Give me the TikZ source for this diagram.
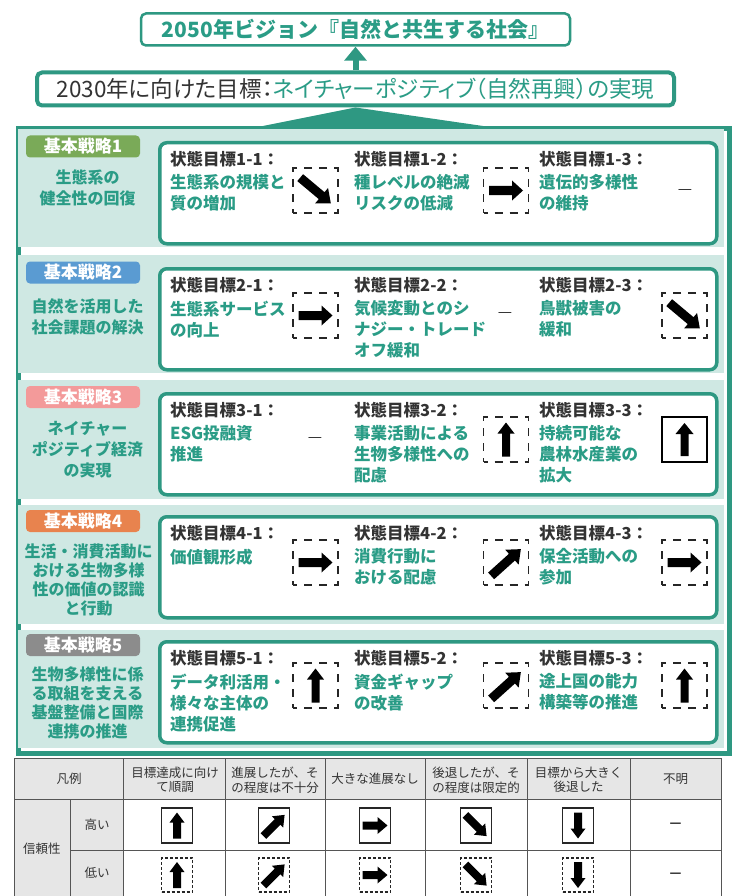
\documentclass[tikz,border=0pt]{standalone}
\usepackage{fontspec}
\newfontfamily\jp{Noto Sans CJK JP}
\newfontfamily\jpp{Noto Sans CJK JP}[RawFeature={+palt}]
\usetikzlibrary{calc,arrows.meta}
\definecolor{tealf}{HTML}{2E9882}
\definecolor{tealt}{HTML}{2A9C86}
\definecolor{mint}{HTML}{CFE8E3}
\definecolor{dark}{HTML}{333333}
\definecolor{bgreen}{HTML}{7AAA58}
\definecolor{bblue}{HTML}{5A9BD2}
\definecolor{bpink}{HTML}{F39A9A}
\definecolor{borange}{HTML}{E8834E}
\definecolor{bgray}{HTML}{8C8C8C}
\definecolor{lgray}{HTML}{E6E6E6}
\definecolor{lline}{HTML}{555555}

% fat arrow: center, angle, length, shaft half width, head half width, head length
\newcommand\icarrow[6]{%
  \begin{scope}[shift={#1},rotate=#2]
    \fill[black] ({-#3/2},-#4) -- ({#3/2-#6},-#4) -- ({#3/2-#6},-#5) -- ({#3/2},0)
      -- ({#3/2-#6},#5) -- ({#3/2-#6},#4) -- ({-#3/2},#4) -- cycle;
  \end{scope}}
\newcommand\arR[1]{\icarrow{#1}{0}{34}{4.5}{10}{11}}
\newcommand\arU[1]{\icarrow{#1}{90}{34}{4}{8.5}{11}}
\newcommand\arDR[1]{\icarrow{#1}{-40}{40}{4.5}{10}{12}}
\newcommand\arUR[1]{\icarrow{#1}{42}{40}{4.5}{10}{12}}
% legend arrows
\newcommand\lU[1]{\icarrow{#1}{90}{26}{4}{7.5}{10}}
\newcommand\lD[1]{\icarrow{#1}{-90}{26}{4}{7.5}{10}}
\newcommand\lR[1]{\icarrow{#1}{0}{25}{4}{8.5}{10}}
\newcommand\lUR[1]{\icarrow{#1}{45}{30}{4}{8}{10}}
\newcommand\lDR[1]{\icarrow{#1}{-45}{30}{4}{8}{10}}

\tikzset{
  dbox/.style={draw=black!85, line width=1.8, dash pattern=on 8pt off 7pt, dash phase=4pt,
    minimum size=45, inner sep=0, outer sep=0},
  sbox/.style={draw=black, line width=1.8, minimum size=45, inner sep=0, outer sep=0},
  goalhd/.style={anchor=west, inner sep=0, text=dark, font=\jp\bfseries\fontsize{16.5}{21}\selectfont},
  goaltx/.style={anchor=north west, inner sep=0, text=tealt, align=left,
    font=\jp\bfseries\fontsize{16.5}{21}\selectfont},
  badge/.style={rounded corners=4, minimum width=114, minimum height=22, inner sep=0,
    text=white, font=\jp\bfseries\fontsize{17}{20}\selectfont},
  strat/.style={text=tealt, align=center, inner sep=0, font=\jp\bfseries\fontsize{16}{21}\selectfont},
  strat4/.style={strat, font=\jp\bfseries\fontsize{16}{19}\selectfont},
  goalbox/.style={draw=tealf, line width=3.5, fill=white, rounded corners=7, anchor=north west,
    minimum width=557, minimum height=101, inner sep=0},
  nodash/.style={inner sep=0, text=dark, font=\jp\fontsize{16}{20}\selectfont},
  mintband/.style={fill=mint},
  tline/.style={draw=lline, line width=0.9},
  lgt/.style={inner sep=0, align=center, text=dark, font=\jp\fontsize{12.5}{14.5}\selectfont},
  lsbox/.style={draw=black!85, line width=1.1, minimum width=31, minimum height=35, inner sep=0},
  ldbox/.style={draw=black!85, line width=1.1, dash pattern=on 3pt off 2pt, minimum width=31,
    minimum height=34, inner sep=0},
  topbox/.style={draw=tealf, fill=white, rounded corners=5, inner sep=0},
}

\begin{document}
\begin{tikzpicture}[x=1pt,y=-1pt]
\useasboundingbox (0,0) rectangle (734,896);
\fill[white] (0,0) rectangle (734,896);

% ---------- top boxes ----------
\node[topbox, line width=2.5, minimum width=429, minimum height=32, text=tealt,
  font=\jp\bfseries\fontsize{21}{24}\selectfont] (vision) at (355.5,29.5)
  {2050年ビジョン『自然と共生する社会』};
\node[topbox, line width=4, minimum width=637, minimum height=33,
  font=\jpp\fontsize{22.5}{24}\selectfont] (goal2030) at (355.5,89)
  {\textcolor{dark}{2030年に向けた目標：}\textcolor{tealt}{ネイチャーポジティブ（自然再興）の実現}};
\draw[tealf, line width=6, -{Triangle[width=22pt,length=14pt]}] (goal2030.north) -- (vision.south);

% ---------- main frame ----------
\node[draw=tealf, line width=5, fill=white, anchor=north west, minimum width=711,
  minimum height=624, inner sep=0] (frame) at (15.5,126.5) {};
\fill[tealf] (goal2030.south) -- ($(frame.north)+(-113,0)$) -- ($(frame.north)+(113,0)$) -- cycle;
\fill[mintband] (18,129) rectangle (724,247);
\fill[mintband] (18,255) rectangle (724,373);
\fill[mintband] (18,380) rectangle (724,499);
\fill[mintband] (18,505) rectangle (724,624);
\fill[mintband] (18,630) rectangle (724,748);

% ---------- row 1 ----------
\node[badge, fill=bgreen] (b1) at (83,146.5) {基本戦略1};
\node[strat] (s1) at (87.5,187.5) {生態系の\\健全性の回復};
\node[goalbox] (g1) at (158,141) {};
\node[goalhd] (h11) at (170,159) {状態目標1-1：};
\node[goaltx] (t11) at (170,174.5) {生態系の規模と\\質の増加};
\node[dbox] (i11) at (315.5,190.5) {}; \arDR{(315.5,190.5)}
\node[goalhd] (h12) at (354,159) {状態目標1-2：};
\node[goaltx] (t12) at (354,174.5) {種レベルの絶滅\\リスクの低減};
\node[dbox] (i12) at (506,190.5) {}; \arR{(506,190.5)}
\node[goalhd] (h13) at (539,159) {状態目標1-3：};
\node[goaltx] (t13) at (539,174.5) {遺伝的多様性\\の維持};
\node[nodash] (d13) at (685,192) {—};

% ---------- row 2 ----------
\node[badge, fill=bblue] (b2) at (83,272.5) {基本戦略2};
\node[strat] (s2) at (87.5,317) {自然を活用した\\社会課題の解決};
\node[goalbox] (g2) at (158,267) {};
\node[goalhd] (h21) at (170,285) {状態目標2-1：};
\node[goaltx] (t21) at (170,300.5) {生態系サービス\\の向上};
\node[dbox] (i21) at (315.5,315.5) {}; \arR{(315.5,315.5)}
\node[goalhd] (h22) at (354,285) {状態目標2-2：};
\node[goaltx] (t22) at (354,300.5) {気候変動とのシ\\ナジー・トレード\\オフ緩和};
\node[nodash] (d22) at (505,315) {—};
\node[goalhd] (h23) at (539,285) {状態目標2-3：};
\node[goaltx] (t23) at (539,300.5) {鳥獣被害の\\緩和};
\node[dbox] (i23) at (684.5,315.5) {}; \arDR{(684.5,315.5)}

% ---------- row 3 ----------
\node[badge, fill=bpink] (b3) at (83,397) {基本戦略3};
\node[strat] (s3) at (87.5,450) {ネイチャー\\ポジティブ経済\\の実現};
\node[goalbox] (g3) at (158,392) {};
\node[goalhd] (h31) at (170,410) {状態目標3-1：};
\node[goaltx] (t31) at (170,425.5) {ESG投融資\\推進};
\node[nodash] (d31) at (315,440) {—};
\node[goalhd] (h32) at (354,410) {状態目標3-2：};
\node[goaltx] (t32) at (354,425.5) {事業活動による\\生物多様性への\\配慮};
\node[dbox] (i32) at (506,439.5) {}; \arU{(506,439.5)}
\node[goalhd] (h33) at (539,410) {状態目標3-3：};
\node[goaltx] (t33) at (539,425.5) {持続可能な\\農林水産業の\\拡大};
\node[sbox] (i33) at (684.5,439.5) {}; \icarrow{(684.5,439.5)}{90}{33}{4}{9}{11}

% ---------- row 4 ----------
\node[badge, fill=borange] (b4) at (83,521) {基本戦略4};
\node[strat4] (s4) at (88.5,580) {生活・消費活動に\\おける生物多様\\性の価値の認識\\と行動};
\node[goalbox] (g4) at (158,515) {};
\node[goalhd] (h41) at (170,533) {状態目標4-1：};
\node[goaltx] (t41) at (170,548.5) {価値観形成};
\node[dbox] (i41) at (315.5,562.5) {}; \arR{(315.5,562.5)}
\node[goalhd] (h42) at (354,533) {状態目標4-2：};
\node[goaltx] (t42) at (354,548.5) {消費行動に\\おける配慮};
\node[dbox] (i42) at (506,562.5) {}; \arUR{(506,562.5)}
\node[goalhd] (h43) at (539,533) {状態目標4-3：};
\node[goaltx] (t43) at (539,548.5) {保全活動への\\参加};
\node[dbox] (i43) at (684.5,562.5) {}; \arR{(684.5,562.5)}

% ---------- row 5 ----------
\node[badge, fill=bgray] (b5) at (83,645) {基本戦略5};
\node[strat4] (s5) at (87.5,703) {生物多様性に係\\る取組を支える\\基盤整備と国際\\連携の推進};
\node[goalbox] (g5) at (158,640) {};
\node[goalhd] (h51) at (170,658) {状態目標5-1：};
\node[goaltx] (t51) at (170,673.5) {データ利活用・\\様々な主体の\\連携促進};
\node[dbox] (i51) at (315.5,685.5) {}; \arU{(315.5,685.5)}
\node[goalhd] (h52) at (354,658) {状態目標5-2：};
\node[goaltx] (t52) at (354,673.5) {資金ギャップ\\の改善};
\node[dbox] (i52) at (506,685.5) {}; \arUR{(506,685.5)}
\node[goalhd] (h53) at (539,658) {状態目標5-3：};
\node[goaltx] (t53) at (539,673.5) {途上国の能力\\構築等の推進};
\node[dbox] (i53) at (684.5,685.5) {}; \arU{(684.5,685.5)}

% ---------- legend table ----------
\fill[lgray] (14,758) rectangle (721,799);
\fill[lgray] (14,799) rectangle (123.5,896);
\draw[tline] (14,758) -- (721,758);
\draw[tline] (14,799) -- (721,799);
\draw[tline] (70,850) -- (721,850);
\draw[tline] (14,758) -- (14,896);
\draw[tline] (721,758) -- (721,896);
\draw[tline] (70,799) -- (70,896);
\foreach \xx in {123.5,225,325,425,527,630} \draw[tline] (\xx,758) -- (\xx,896);

\node[lgt] (lh0) at (69,779) {凡例};
\node[lgt] (lh1) at (175,780) {目標達成に向け\\て順調};
\node[lgt] (lh2) at (275,780) {進展したが、そ\\の程度は不十分};
\node[lgt] (lh3) at (375,779) {大きな進展なし};
\node[lgt] (lh4) at (476,780) {後退したが、そ\\の程度は限定的};
\node[lgt] (lh5) at (578.5,780) {目標から大きく\\後退した};
\node[lgt] (lh6) at (675.5,779) {不明};
\node[lgt] (lr0) at (42,849) {信頼性};
\node[lgt] (lr1) at (97,825) {高い};
\node[lgt] (lr2) at (97,873) {低い};

\node[lsbox] (lh1i) at (177,825.5) {}; \lU{(177,825.5)}
\node[lsbox] (lh2i) at (274,825.5) {}; \lUR{(274,825.5)}
\node[lsbox] (lh3i) at (375,825.5) {}; \lR{(375,825.5)}
\node[lsbox] (lh4i) at (476,825.5) {}; \lDR{(476,825.5)}
\node[lsbox] (lh5i) at (578,825.5) {}; \lD{(578,825.5)}
\node[lgt, font=\jp\bfseries\fontsize{13}{15}\selectfont] (lh6i) at (675.5,825) {—};

\node[ldbox] (ll1i) at (177,875) {}; \lU{(177,875)}
\node[ldbox] (ll2i) at (274,875) {}; \lUR{(274,875)}
\node[ldbox] (ll3i) at (375,875) {}; \lR{(375,875)}
\node[ldbox] (ll4i) at (476,875) {}; \lDR{(476,875)}
\node[ldbox] (ll5i) at (578,875) {}; \lD{(578,875)}
\node[lgt, font=\jp\bfseries\fontsize{13}{15}\selectfont] (ll6i) at (675.5,875) {—};
\end{tikzpicture}
\end{document}
